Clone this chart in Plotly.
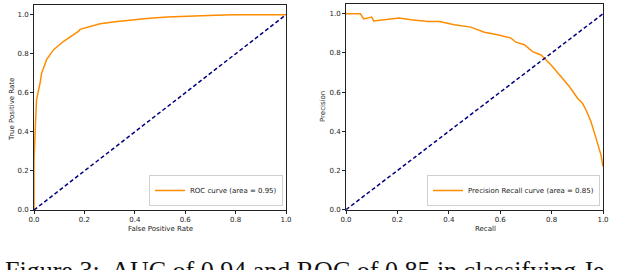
import plotly.graph_objects as go

# ROC curve data
roc_fpr = [0.0, 0.0, 0.004, 0.01, 0.024, 0.03, 0.05, 0.077, 0.116, 0.15, 0.176, 0.183, 0.22, 0.262, 0.33, 0.394, 0.46, 0.527, 0.6, 0.659, 0.72, 0.79, 0.9, 1.0]
roc_tpr = [0.0, 0.25, 0.385, 0.564, 0.65, 0.70, 0.77, 0.82, 0.863, 0.89, 0.915, 0.925, 0.94, 0.954, 0.965, 0.974, 0.982, 0.988, 0.993, 0.996, 0.998, 1.0, 1.0, 1.0]

# Precision-Recall curve data
pr_recall = [0.0, 0.056, 0.069, 0.09, 0.1, 0.108, 0.149, 0.207, 0.253, 0.318, 0.363, 0.421, 0.486, 0.538, 0.59, 0.642, 0.661, 0.694, 0.726, 0.759, 0.798, 0.849, 0.869, 0.901, 0.92, 0.934, 0.953, 0.969, 0.982, 0.992, 1.0]
pr_precision = [1.0, 1.0, 0.974, 0.981, 0.983, 0.963, 0.97, 0.978, 0.97, 0.961, 0.961, 0.944, 0.932, 0.906, 0.893, 0.876, 0.855, 0.842, 0.807, 0.79, 0.739, 0.663, 0.629, 0.569, 0.543, 0.509, 0.45, 0.382, 0.33, 0.28, 0.22]

diag = [0.0, 1.0]
tick_vals = [0.0, 0.2, 0.4, 0.6, 0.8, 1.0]
tick_text = ["0.0", "0.2", "0.4", "0.6", "0.8", "1.0"]

roc_label = "ROC curve (area = 0.95)"
pr_label = "Precision Recall curve (area = 0.85)"
caption = "Figure 3:  AUC of 0.94 and ROC of 0.85 in classifying Je"

W, H = 622, 270
ORANGE = "#FF8C00"
NAVY = "#000080"
FONT = "DejaVu Sans"

fig = go.Figure()
fig.add_trace(go.Scatter(x=roc_fpr, y=roc_tpr, mode="lines", name=roc_label,
                         line=dict(color=ORANGE, width=1.5), xaxis="x", yaxis="y", legend="legend"))
fig.add_trace(go.Scatter(x=diag, y=diag, mode="lines", showlegend=False,
                         line=dict(color=NAVY, width=1.5, dash="4px,2.5px"), xaxis="x", yaxis="y"))
fig.add_trace(go.Scatter(x=pr_recall, y=pr_precision, mode="lines", name=pr_label,
                         line=dict(color=ORANGE, width=1.5), xaxis="x2", yaxis="y2", legend="legend2"))
fig.add_trace(go.Scatter(x=diag, y=diag, mode="lines", showlegend=False,
                         line=dict(color=NAVY, width=1.5, dash="4px,2.5px"), xaxis="x2", yaxis="y2"))

def ax(domain, anchor, rng):
    return dict(domain=domain, anchor=anchor, range=rng, tickvals=tick_vals, ticktext=tick_text,
                ticks="outside", ticklen=3, tickwidth=1, tickcolor="#222",
                showline=True, linecolor="#222", linewidth=1, mirror=True,
                showgrid=False, zeroline=False, tickfont=dict(family=FONT, size=7, color="#222"),
                automargin=False)

fig.update_layout(
    width=W, height=H,
    margin=dict(l=0, r=0, t=0, b=0),
    paper_bgcolor="white", plot_bgcolor="white",
    xaxis=ax([34 / W, 286 / W], "y", [0, 1.0]),
    yaxis=ax([1 - 210 / H, 1 - 5 / H], "x", [0, 1.05]),
    xaxis2=ax([346 / W, 603 / W], "y2", [0, 1.0]),
    yaxis2=ax([1 - 209.7 / H, 1 - 4 / H], "x2", [0, 1.05]),
    legend=dict(x=283 / W, y=1 - 206 / H, xanchor="right", yanchor="bottom",
                bgcolor="white", bordercolor="#d0d0d0", borderwidth=1,
                font=dict(family=FONT, size=7, color="#222"), itemwidth=30,
                tracegroupgap=0),
    legend2=dict(x=600 / W, y=1 - 206 / H, xanchor="right", yanchor="bottom",
                 bgcolor="white", bordercolor="#d0d0d0", borderwidth=1,
                 font=dict(family=FONT, size=7, color="#222"), itemwidth=30,
                 tracegroupgap=0),
    showlegend=True,
)

def note(text, x, y, angle=0, size=7, family=FONT, xanchor="center", yanchor="middle", color="#222"):
    fig.add_annotation(text=text, x=x / W, y=1 - y / H, xref="paper", yref="paper",
                       showarrow=False, textangle=angle, xanchor=xanchor, yanchor=yanchor,
                       font=dict(family=family, size=size, color=color))

note("False Positive Rate", 160, 229)
note("True Positive Rate", 12, 110, angle=-90)
note("Recall", 485, 229)
note("Precision", 323, 107, angle=-90)
note(caption, 3, 254, size=26, family="Liberation Serif", xanchor="left", yanchor="top", color="#111")

fig.write_html("out.html", config={"displayModeBar": False},
               post_script="document.body.style.margin='0';document.body.style.overflow='hidden';")
